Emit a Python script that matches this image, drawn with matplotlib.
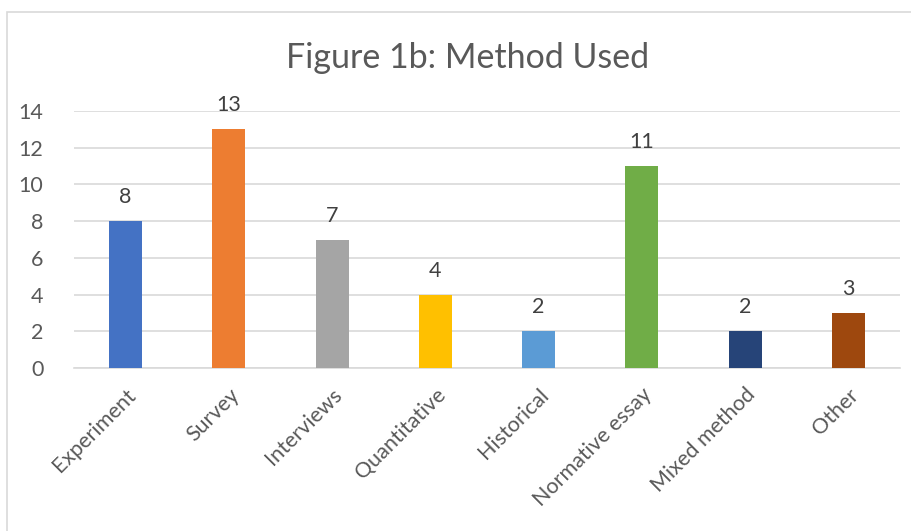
import matplotlib.pyplot as plt
from matplotlib.patches import Rectangle
import numpy as np

plt.rcParams['font.family'] = ['Lato', 'DejaVu Sans']

categories = ['Experiment', 'Survey', 'Interviews', 'Quantitative', 'Historical',
              'Normative essay', 'Mixed method', 'Other']
counts = [8, 13, 7, 4, 2, 11, 2, 3]
colors = ['#4472C4', '#ED7D31', '#A5A5A5', '#FFC000', '#5B9BD5',
          '#70AD47', '#264478', '#9E480E']
yticks = [0, 2, 4, 6, 8, 10, 12, 14]

W, H = 912, 531
fig = plt.figure(figsize=(W / 100, H / 100), dpi=100)
# chart border
fig.patches.append(Rectangle((7 / W, -0.01), 1.0, 1 - 12 / H + 0.01, transform=fig.transFigure,
                             fill=False, edgecolor='#d9d9d9', linewidth=1.2))

ax = fig.add_axes([74 / W, 1 - 368 / H, (900 - 74) / W, (368 - 111) / H])
x = np.arange(len(categories))
bars = ax.bar(x, counts, width=0.32, color=colors, zorder=3)
ax.bar_label(bars, padding=10, fontsize=15.5, color='#404040')

ax.set_xlim(-0.5, len(categories) - 0.5)
ax.set_ylim(0, 14)
ax.set_yticks(yticks)
ax.yaxis.grid(True, color='#d9d9d9', linewidth=1.2, zorder=0)
for s in ['top', 'right', 'left']:
    ax.spines[s].set_visible(False)
ax.spines['bottom'].set_color('#d9d9d9')
ax.spines['bottom'].set_linewidth(1.2)
ax.tick_params(axis='both', length=0, labelsize=15.5, labelcolor='#595959')
ax.tick_params(axis='y', pad=22)
ax.set_xticks(x)
ax.set_xticklabels(categories, rotation=45, ha='right', rotation_mode='anchor')
ax.tick_params(axis='x', pad=12)

fig.text(468 / W, 1 - 58 / H, 'Figure 1b: Method Used', ha='center', va='center',
         fontsize=24.5, color='#595959')

fig.savefig('out.png', dpi=100, facecolor='white')
